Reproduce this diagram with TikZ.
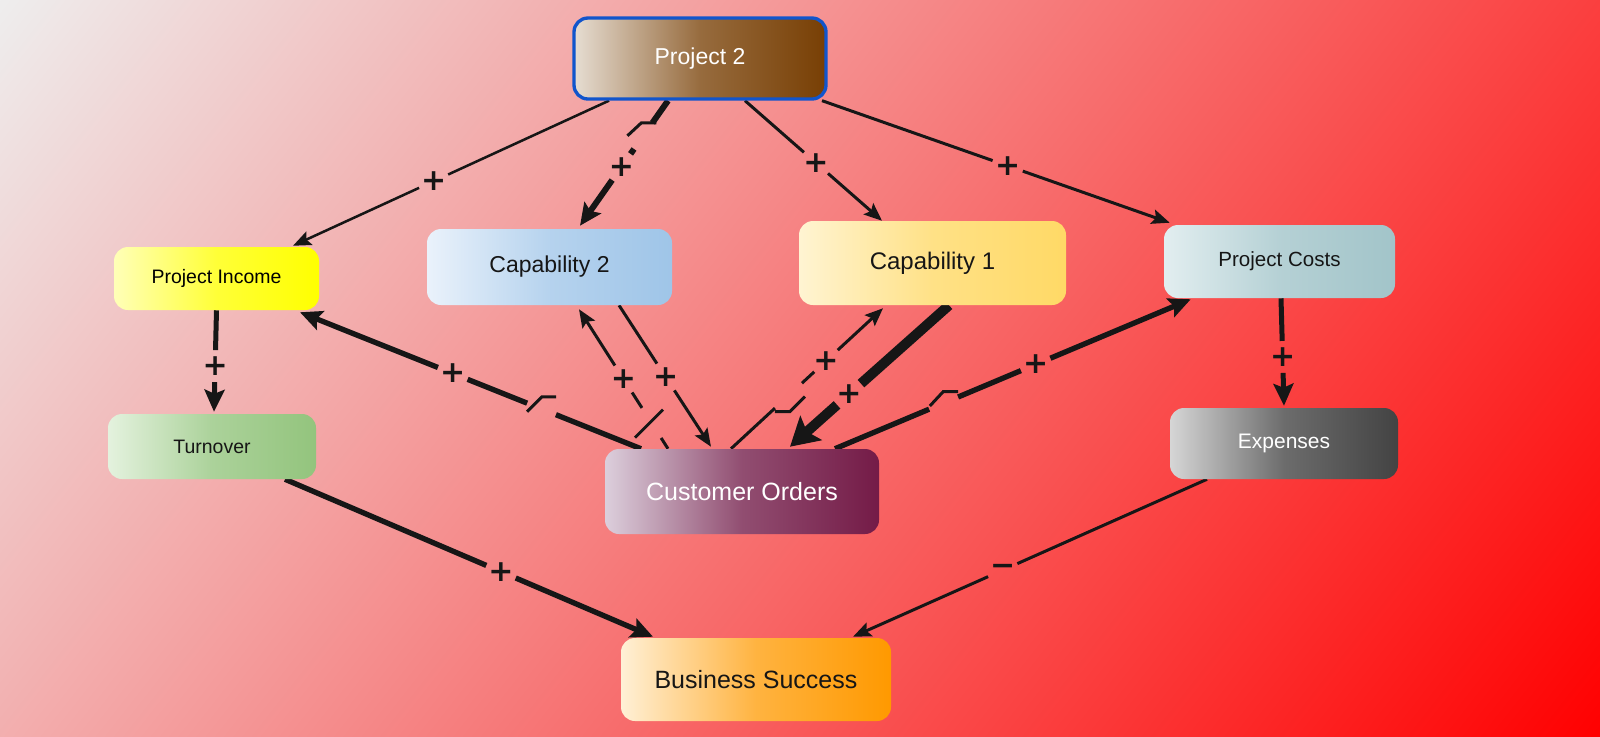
\documentclass[tikz,border=0pt]{standalone}
\usepackage{fontspec}
\usetikzlibrary{calc,arrows.meta}
\newfontfamily\arialf{Liberation Sans}
\newfontfamily\lblf{DejaVu Sans}
\pgfdeclarelayer{bgl}
\pgfdeclarelayer{edl}
\pgfsetlayers{bgl,edl,main}
\definecolor{lc}{HTML}{161616}
\definecolor{bgA}{HTML}{EEEEEE}
\definecolor{bgB}{HTML}{FF0000}
\definecolor{bord}{HTML}{1155CC}
\definecolor{p2a}{HTML}{E6DDD2}\definecolor{p2b}{HTML}{783F04}
\definecolor{pia}{HTML}{FFFFB8}\definecolor{pib}{HTML}{FFFF00}
\definecolor{c2a}{HTML}{EAF2FB}\definecolor{c2b}{HTML}{9FC5E8}
\definecolor{c1a}{HTML}{FFF4D2}\definecolor{c1b}{HTML}{FFD966}
\definecolor{pca}{HTML}{E2EEF0}\definecolor{pcb}{HTML}{A2C4C9}
\definecolor{tua}{HTML}{E4F2DE}\definecolor{tub}{HTML}{93C47D}
\definecolor{coa}{HTML}{DCCFDC}\definecolor{cob}{HTML}{741B47}
\definecolor{exa}{HTML}{D6D6D6}\definecolor{exb}{HTML}{434343}
\definecolor{bsa}{HTML}{FFF0D6}\definecolor{bsb}{HTML}{FF9900}
\tikzset{
  box/.style={rectangle, rounded corners=10.5pt, inner sep=0pt, align=center},
  sz/.style 2 args={minimum width=#1*0.75pt, minimum height=#2*0.75pt},
  fnt/.style={font=\arialf\fontsize{#1}{#1}\selectfont},
  lbl/.style={inner sep=0pt, text=lc, font=\lblf\bfseries\fontsize{22.5}{23}\selectfont},
  wA/.style={draw=lc, line width=2.25pt, -{Stealth[length=13.5pt,width=11pt,inset=2.5pt]}},
  wB/.style={draw=lc, line width=4pt, -{Stealth[length=16.5pt,width=15pt,inset=3pt]}},
  wC/.style={draw=lc, line width=7.5pt, -{Stealth[length=21pt,width=24pt,inset=4pt]}},
  gl/.style={draw=lc, line width=2.25pt}
}
\newcommand\cedge[6]{%
  \coordinate (#1s) at #2;
  \coordinate (#1t) at #3;
  \coordinate (#1l) at ($(#1s)!#4!(#1t)$);
  \draw[#6,-] (#1s) -- ($(#1l)!12pt!(#1s)$);
  \draw[#6] ($(#1l)!12pt!(#1t)$) -- (#1t);
  \node[lbl] (#1x) at (#1l) {#5};}
\newcommand\dedge[9]{%
  \coordinate (#1s) at #2;
  \coordinate (#1t) at #3;
  \coordinate (#1d) at ($(#1s)!#4!(#1t)$);
  \coordinate (#1l) at ($(#1s)!#7!(#1t)$);
  \draw[#9,-] (#1s) -- ($(#1d)!#5!(#1s)$);
  \draw[#9,-] ($(#1d)!#6!(#1t)$) -- ($(#1l)!12pt!(#1s)$);
  \draw[#9] ($(#1l)!12pt!(#1t)$) -- (#1t);
  \node[lbl] (#1x) at (#1l) {#8};}
\begin{document}
\begin{tikzpicture}[x=0.75pt,y=-0.75pt]
\useasboundingbox (0,0) rectangle (1600,736);
\begin{pgfonlayer}{bgl}
  \begin{scope}
    \clip (0,0) rectangle (1600,736);
    \begin{scope}[transform canvas={rotate around={-38:(800,368)}}]
      \shade[left color=bgA, right color=bgB] (-60,-492) rectangle (1660,1228);
    \end{scope}
  \end{scope}
\end{pgfonlayer}

% nodes
\node[box, sz={252}{81}, draw=bord, line width=2.5pt, left color=p2a, right color=p2b, middle color=p2b!72!p2a, text=white, fnt=17.25] (p2) at (700,58.5) {Project 2};
\node[box, sz={205}{63}, left color=pia, right color=pib, middle color=pib!70!pia, text=black, fnt=14.6] (pi) at (216.5,278.5) {Project Income};
\node[box, sz={245}{76}, left color=c2a, right color=c2b, middle color=c2b!70!c2a, text=lc, fnt=17.25] (cap2) at (549.5,267) {Capability 2};
\node[box, sz={267}{84}, left color=c1a, right color=c1b, middle color=c1b!70!c1a, text=lc, fnt=18] (cap1) at (932.5,263) {Capability 1};
\node[box, sz={231}{73}, left color=pca, right color=pcb, middle color=pcb!70!pca, text=lc, fnt=15.4] (pc) at (1279.5,261.5) {Project Costs};
\node[box, sz={208}{65}, left color=tua, right color=tub, middle color=tub!70!tua, text=lc, fnt=14.6] (tu) at (212,446.5) {Turnover};
\node[box, sz={274}{85}, left color=coa, right color=cob, middle color=cob!72!coa, text=white, fnt=18.75] (co) at (742,491.5) {Customer Orders};
\node[box, sz={228}{71}, left color=exa, right color=exb, middle color=exb!72!exa, text=white, fnt=15.75] (ex) at (1284,443.5) {Expenses};
\node[box, sz={270}{83}, left color=bsa, right color=bsb, middle color=bsb!70!bsa, text=lc, fnt=18.75] (bs) at (756,679.5) {Business Success};

\begin{pgfonlayer}{edl}
  \cedge{e1}{($(p2.south)+(-91,0)$)}{($(pi.north)+(76.5,-1)$)}{0.555}{+}{wA, line width=1.9pt}
  \dedge{e2}{($(p2.south)+(-32,0)$)}{($(cap2.north)+(30.5,-3)$)}{0.177}{0pt}{24pt}{0.53}{+}{wB, line width=4.5pt}
  \draw[gl, shift={(e2d)}] (4,0) -- (-11,0) -- (-25,13);
  \cedge{e3}{($(p2.south)+(45,0)$)}{($(cap1.north)+(-50.5,0)$)}{0.518}{+}{wA}
  \cedge{e4}{($(p2.south)+(122,0)$)}{($(pc.north west)+(6,-2)$)}{0.534}{+}{wA}
  \cedge{e5}{(pi.south)}{($(tu.north)+(2,-2)$)}{0.55}{+}{wB, line width=3.75pt}
  \cedge{e6}{($(pc.south)+(1.5,0)$)}{($(ex.north)+(0,-2)$)}{0.546}{+}{wB, line width=3.75pt}
  \dedge{e7}{($(co.north)+(-101,0)$)}{($(pi.south)+(83.5,2)$)}{0.293}{12pt}{11.25pt}{0.552}{+}{wB}
  \draw[gl, shift={(e7d)}] (-14,3) -- (1,-12) -- (15,-12);
  \dedge{e8}{($(co.north)+(-74,0)$)}{($(cap2.south)+(29.5,4)$)}{0.18}{12.75pt}{14pt}{0.5}{+}{wA}
  \draw[gl, shift={(e8d)}] (-17,14) -- (11,-14);
  \cedge{e9}{($(cap2.south)+(69.5,0)$)}{($(co.north)+(-31,-2)$)}{0.507}{+}{wA}
  \dedge{e10}{($(co.north)+(-11,0)$)}{($(cap1.south)+(-49.5,3)$)}{0.289}{0pt}{27.6pt}{0.625}{+}{wA}
  \draw[gl, shift={(e10d)}] (0,3.5) -- (15,3.5) -- (30,-11.5);
  \cedge{e11}{($(cap1.south)+(16.5,0)$)}{($(co.north)+(48,-2)$)}{0.629}{+}{wC}
  \dedge{e12}{($(co.north)+(93,0)$)}{($(pc.south west)+(27,1)$)}{0.306}{12pt}{11.6pt}{0.564}{+}{wB}
  \draw[gl, shift={(e12d)}] (-14,3) -- (-0.7,-11.3) -- (14.3,-11.3);
  \cedge{e13}{($(tu.south)+(73,0)$)}{($(bs.north)+(-103,-1)$)}{0.587}{+}{wB}
  \cedge{e14}{($(ex.south)+(-77,0)$)}{($(bs.north)+(97,-1)$)}{0.577}{−}{wA}
\end{pgfonlayer}
\end{tikzpicture}
\end{document}
